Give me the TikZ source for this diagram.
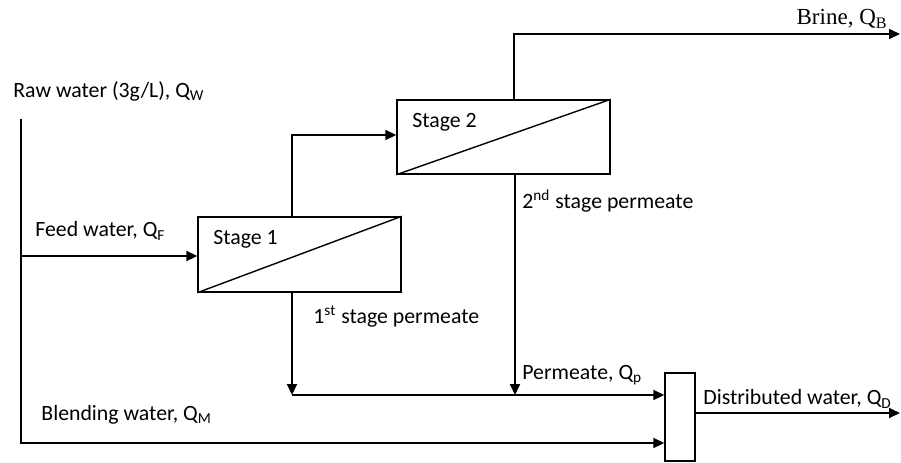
\documentclass[tikz,border=0pt]{standalone}
\usepackage{fontspec}
\setmainfont{Carlito}
\newfontfamily\timesfont{Liberation Serif}
\usetikzlibrary{arrows.meta}
\begin{document}
\begin{tikzpicture}[x=0.5pt,y=-0.5pt,
  flow/.style={line width=0.9pt,-{Triangle[length=5.5pt,width=5pt]}},
  unit/.style={draw,line width=0.7pt,minimum width=101.5pt,minimum height=37.5pt,inner sep=0pt},
  mixbox/.style={draw,line width=0.7pt,minimum width=15pt,minimum height=44pt,inner sep=0pt},
  lbl/.style={inner sep=0pt,anchor=west,font=\fontsize{10.9}{12}\selectfont},
  tlbl/.style={inner sep=0pt,anchor=east,font=\timesfont\fontsize{11.5}{13}\selectfont}]
\path[use as bounding box] (0,0) rectangle (901,462);
% units
\node[unit] (s1) at (299.5,254.5) {};
\node[unit,minimum width=106.5pt,minimum height=37pt] (s2) at (503.5,137) {};
\node[mixbox] (mix) at (680,417) {};
\draw[line width=0.7pt] (s1.south west) -- (s1.north east);
\draw[line width=0.7pt] (s2.south west) -- (s2.north east);
% coordinates
\coordinate (rawtop) at (21,119);
\coordinate (rawbot) at (21,443);
\coordinate (f0) at (21,256);
\coordinate (j1) at (292,135);
\coordinate (b1) at (514,34);
\coordinate (bend) at (900,34);
\coordinate (p1) at (292,395);
\coordinate (p2) at (515,395);
\coordinate (dend) at (900,413);
% connectors
\draw[flow] (rawtop) -- (rawbot) -- (mix.west |- rawbot);
\draw[flow] (f0) -- (s1.west |- f0);
\draw[flow] (s1.north -| j1) -- (j1) -- (s2.west |- j1);
\draw[flow] (s2.north -| b1) -- (b1) -- (bend);
\draw[flow] (s1.south -| p1) -- (p1);
\draw[flow] (s2.south -| p2) -- (p2);
\draw[flow] (p1) -- (mix.west |- p1);
\draw[flow] (mix.east |- dend) -- (dend);
% labels
\node[lbl] (lraw) at (13,91) {Raw water (3g/L), Q\textsubscript{W}};
\node[lbl] (lfeed) at (35,231) {Feed water, Q\textsubscript{F}};
\node[lbl] (ls1) at (213,239) {Stage 1};
\node[lbl] (ls2) at (412,122) {Stage 2};
\node[tlbl] (lbrine) at (888,19) {Brine, Q\textsubscript{B}};
\node[lbl] (lp2) at (522,201) {2\textsuperscript{nd} stage permeate};
\node[lbl] (lp1) at (313,317) {1\textsuperscript{st} stage permeate};
\node[lbl] (lperm) at (522,375) {Permeate, Q\textsubscript{p}};
\node[lbl] (lblend) at (41,415) {Blending water, Q\textsubscript{M}};
\node[lbl] (ldist) at (703,399) {Distributed water, Q\textsubscript{D}};
\end{tikzpicture}
\end{document}
